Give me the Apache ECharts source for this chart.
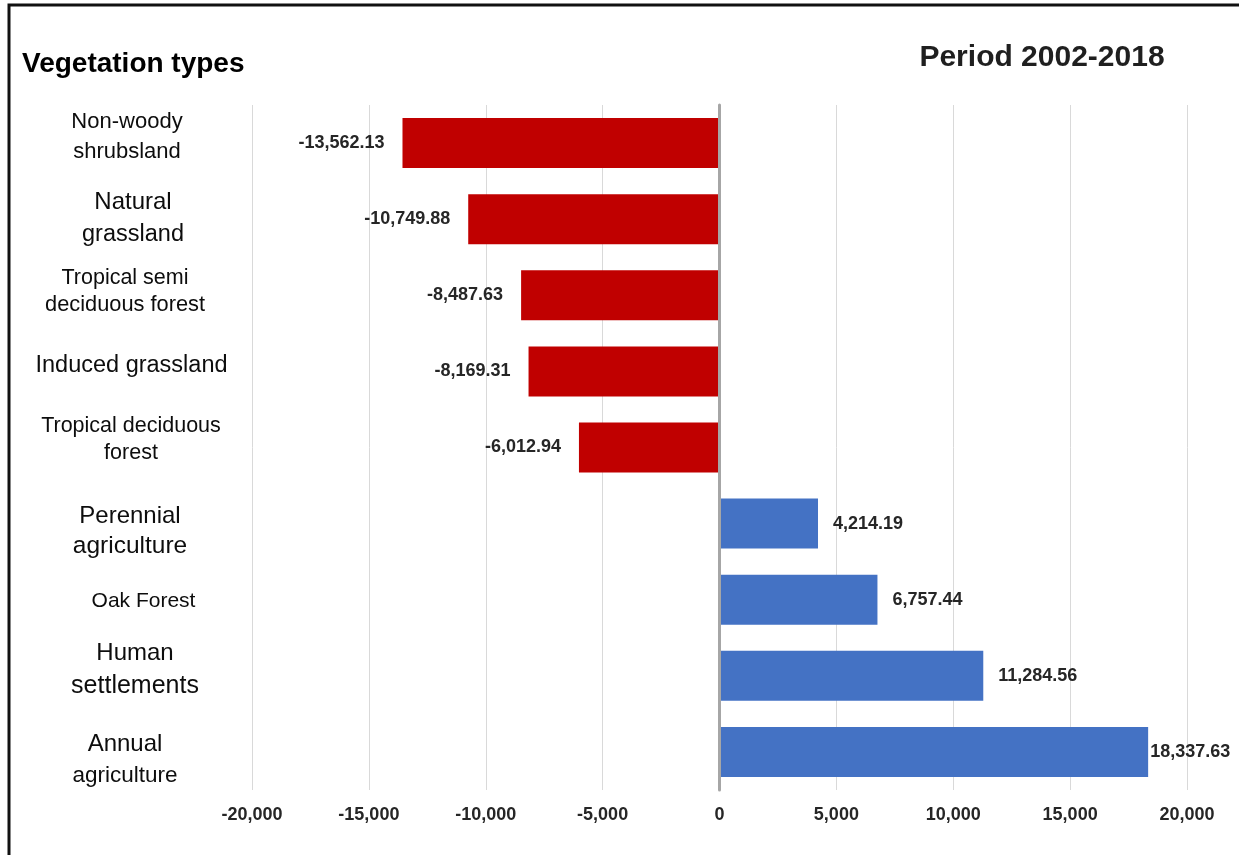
<!DOCTYPE html>
<html>
<head>
<meta charset="utf-8">
<script src="https://cdn.jsdelivr.net/npm/echarts@6/dist/echarts.min.js"></script>
<style>
  html, body { margin: 0; padding: 0; background: #fff; }
  #chart { width: 1239px; height: 855px; }
</style>
</head>
<body>
<div id="chart"></div>
<script>
// ---- Data ----
const categories = [
  'Non-woody\nshrubsland',
  'Natural\ngrassland',
  'Tropical semi\ndeciduous forest',
  'Induced grassland',
  'Tropical deciduous\nforest',
  'Perennial\nagriculture',
  'Oak Forest',
  'Human\nsettlements',
  'Annual\nagriculture'
];
const values = [-13562.13, -10749.88, -8487.63, -8169.31, -6012.94, 4214.19, 6757.44, 11284.56, 18337.63];
const xTicks = [-20000, -15000, -10000, -5000, 0, 5000, 10000, 15000, 20000];
const chartTitle = 'Vegetation types';
const periodTitle = 'Period 2002-2018';

// ---- Styles (kept apart from data) ----
const FONT = '"Liberation Sans", Arial, sans-serif';
const labelFontSizes = [[22, 22], [24, 23.5], [21.5, 21.8], [23.5], [21.5, 21.5], [24, 24.5], [21], [24, 25], [24, 22.5]];
const labelLineHeights = [30, 32, 27, 30, 27, 30, 28, 32, 32];
const labelShiftY = [-6, -1, -4, -6, -8, 8, 1, -6, 8];
const labelShiftX = [-3, 3, -5, 1.5, 1, 0, 13.5, 5, -5];
const RED = '#C00000', BLUE = '#4472C4';

const rich = {};
categories.forEach((c, i) => {
  c.split('\n').forEach((ln, j) => {
    rich['s' + i + '_' + j] = {
      fontSize: labelFontSizes[i][j], lineHeight: labelLineHeights[i],
      color: '#0d0d0d', fontFamily: FONT
    };
  });
});

const yData = categories.map((c, i) => {
  const dy = labelShiftY[i], dx = labelShiftX[i];
  const pad = [Math.max(0, 2 * dy), Math.max(0, -2 * dx), Math.max(0, -2 * dy), Math.max(0, 2 * dx)];
  return { value: c, textStyle: { padding: pad, align: 'center', verticalAlign: 'middle' } };
});

const fmt = v => v.toLocaleString('en-US', { minimumFractionDigits: 2, maximumFractionDigits: 2 });

const chart = echarts.init(document.getElementById('chart'));
chart.setOption({
  backgroundColor: '#fff',
  animation: false,
  grid: { left: 252, right: 52, top: 105, bottom: 65, containLabel: false, outerBoundsMode: 'none' },
  graphic: [
    { type: 'rect', shape: { x: 9, y: 5, width: 1400, height: 1000 },
      style: { fill: 'none', stroke: '#111', lineWidth: 3 }, z: 100 },
    { type: 'text', x: 22, y: 64,
      style: { text: chartTitle, font: 'bold 28px ' + FONT, fill: '#000', verticalAlign: 'middle', align: 'left' } },
    { type: 'text', x: 1042, y: 58,
      style: { text: periodTitle, font: 'bold 30px ' + FONT, fill: '#1f1f1f', verticalAlign: 'middle', align: 'center' } }
  ],
  xAxis: {
    type: 'value',
    min: xTicks[0], max: xTicks[xTicks.length - 1], interval: xTicks[1] - xTicks[0],
    axisLine: { show: false }, axisTick: { show: false },
    splitLine: { show: true, lineStyle: { color: '#d9d9d9', width: 1 } },
    axisLabel: {
      margin: 16, fontFamily: FONT, fontSize: 18, fontWeight: 'bold', color: '#262626',
      formatter: v => v.toLocaleString('en-US')
    }
  },
  yAxis: {
    type: 'category', inverse: true, data: yData, z: 5,
    axisLine: { show: true, onZero: true, lineStyle: { color: '#a6a6a6', width: 3 } },
    axisTick: { show: false }, splitLine: { show: false },
    axisLabel: {
      margin: 122, align: 'center', interval: 0,
      formatter: (value, idx) => value.split('\n').map((ln, j) => '{s' + idx + '_' + j + '|' + ln + '}').join('\n'),
      rich: rich
    }
  },
  series: [{
    type: 'bar', barWidth: 50,
    data: values.map((v, i) => ({
      value: v,
      itemStyle: { color: v < 0 ? RED : BLUE },
      label: {
        show: true, position: v < 0 ? 'left' : 'right',
        distance: (i === values.length - 1) ? 2 : (v < 0 ? 18 : 15),
        formatter: p => fmt(p.value),
        fontFamily: FONT, fontSize: 18, fontWeight: 'bold', color: '#262626'
      }
    }))
  }]
});
</script>
</body>
</html>
